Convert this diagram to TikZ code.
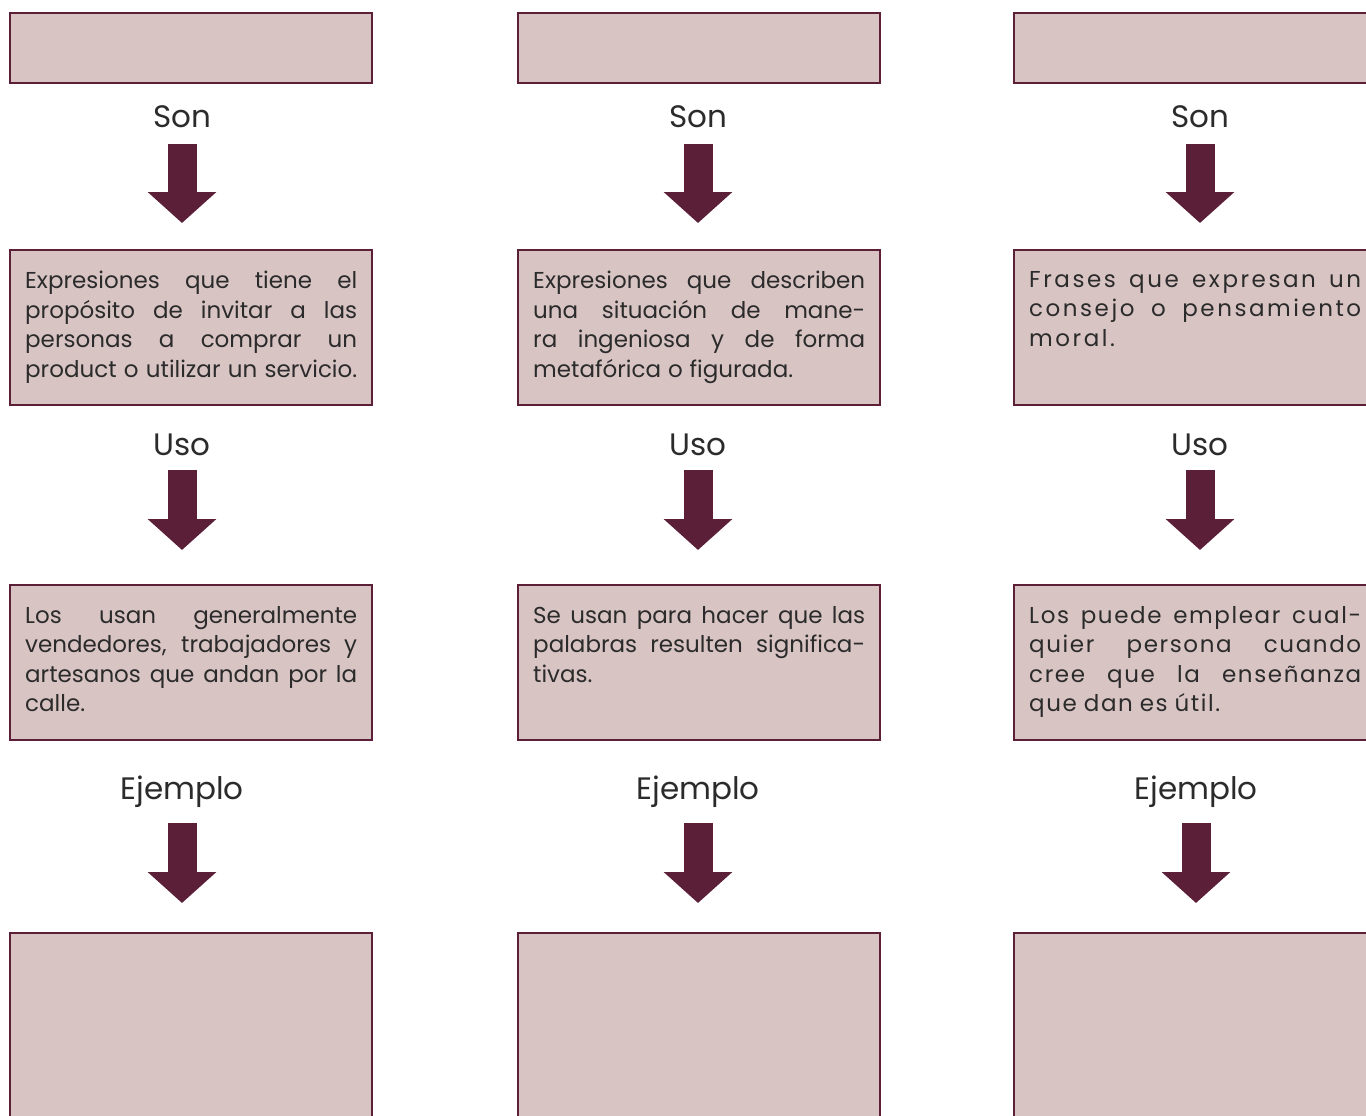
\documentclass[tikz,border=0pt]{standalone}
\usepackage{fontspec}
\setmainfont{Poppins}
\usetikzlibrary{arrows.meta}
\definecolor{vino}{HTML}{5C1F38}
\definecolor{rosa}{HTML}{D9C4C4}
\definecolor{tinta}{HTML}{2B2B2B}
\tikzstyle{caja}=[draw=vino,fill=rosa,line width=2pt,anchor=north west,minimum width=362pt,inner sep=0pt]
\tikzstyle{texto}=[anchor=north west,inner sep=0pt,text width=332pt,align=left,text=tinta,font=\fontsize{23}{29.5}\selectfont]
\tikzstyle{etiq}=[anchor=base,inner sep=0pt,text=tinta,font=\fontsize{31}{32}\selectfont]
\tikzstyle{flecha}=[vino,line width=29pt,-{Triangle[length=31pt,width=67pt]}]
\newcommand{\jl}[1]{\leavevmode\hbox to 332pt{\spaceskip=0.3em plus 1fil minus 0.2em\relax #1}}
\newcommand{\ul}[1]{\leavevmode\hbox{\spaceskip=0.3em\relax #1}}

\begin{document}
\begin{tikzpicture}[x=1pt,y=-1pt]
    \useasboundingbox (0,0) rectangle (1366,1116);
    \clip (0,0) rectangle (1366,1116);
    % cajas
    \foreach \c/\x in {1/9,2/517,3/1013} {
        \node[caja,minimum height=70pt] (t\c) at (\x,12) {};
        \node[caja,minimum height=155pt] (d\c) at (\x,249) {};
        \node[caja,minimum height=155pt] (u\c) at (\x,584) {};
        \node[caja,minimum height=230pt] (e\c) at (\x,932) {};
    }
    % etiquetas
    \node[etiq] (s1) at (182,128) {Son};
    \node[etiq] (s2) at (698,128) {Son};
    \node[etiq] (s3) at (1200,128) {Son};
    \node[etiq] (o1) at (182,455) {Uso};
    \node[etiq] (o2) at (698,455) {Uso};
    \node[etiq] (o3) at (1200,455) {Uso};
    \node[etiq] (j1) at (182,799) {Ejemplo};
    \node[etiq] (j2) at (698,799) {Ejemplo};
    \node[etiq] (j3) at (1196,799) {Ejemplo};
    % textos
    \node[texto] (x1) at (25,271) {\jl{Expresiones que tiene el}\\\jl{propósito de invitar a las}\\\jl{personas a comprar un}\\\jl{product o utilizar un servicio.}};
    \node[texto] (x2) at (533,271) {\jl{Expresiones que describen}\\\jl{una situación de mane-}\\\jl{ra ingeniosa y de forma}\\\ul{metafórica o figurada.}};
    \node[texto] (x3) at (1029,271) {\addfontfeature{LetterSpace=11}\jl{Frases que expresan un}\\\jl{consejo o pensamiento}\\\ul{moral.}};
    \node[texto] (y1) at (25,606) {\jl{Los usan generalmente}\\\jl{vendedores, trabajadores y}\\\jl{artesanos que andan por la}\\\ul{calle.}};
    \node[texto] (y2) at (533,606) {\jl{Se usan para hacer que las}\\\jl{palabras resulten significa-}\\\ul{tivas.}};
    \node[texto] (y3) at (1029,606) {\addfontfeature{LetterSpace=7}\jl{Los puede emplear cual-}\\\jl{quier persona cuando}\\\jl{cree que la enseñanza}\\\ul{que dan es útil.}};

    \foreach \from/\to in {s1/d1,s2/d2,s3/d3}
    \draw[flecha,shorten <=16pt,shorten >=26pt] (\from.base) -- (\from.base |- \to.north);
    \foreach \from/\to in {o1/u1,o2/u2,o3/u3}
    \draw[flecha,shorten <=15pt,shorten >=34pt] (\from.base) -- (\from.base |- \to.north);
    \foreach \from/\to in {j1/e1,j2/e2,j3/e3}
    \draw[flecha,shorten <=24pt,shorten >=29pt] (\from.base) -- (\from.base |- \to.north);
\end{tikzpicture}
\end{document}
